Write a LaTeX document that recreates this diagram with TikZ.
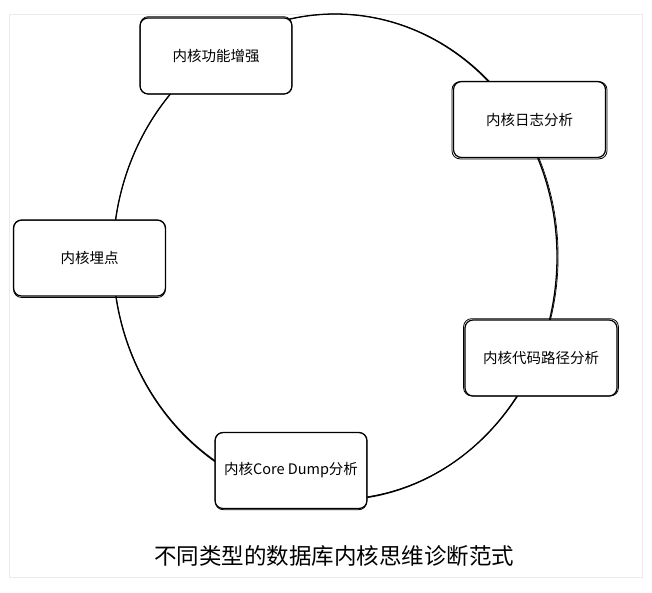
\documentclass[tikz,border=0pt]{standalone}
\usepackage{fontspec}
\setmainfont{Noto Sans CJK SC}

\begin{document}
\begin{tikzpicture}[x=1pt,y=-1pt,
  stage/.style={draw,line width=1.2pt,rounded corners=8pt,fill=white,
    minimum width=152pt,minimum height=76pt,inner sep=0pt,
    font=\fontsize{14.5}{17.4}\selectfont},
  sketch/.style={line width=0.8pt,rounded corners=8pt},
  loopline/.style={line width=1.3pt}]
\path[use as bounding box] (0,0) rectangle (652,592);
\draw[line width=0.6pt,black!8] (9,14) rectangle (642,577);
% cycle behind the stages
\draw[loopline] (335,257) ellipse [x radius=222pt,y radius=243pt];
\draw[line width=0.7pt] (335.6,256.6) ellipse [x radius=222.5pt,y radius=242.6pt];
\node[stage] (enhance) at (216,56) {内核功能增强};
\node[stage] (logs) at (529.5,119.5) {内核日志分析};
\node[stage] (probe) at (89.5,258) {内核埋点};
\node[stage] (codepath) at (541,358) {内核代码路径分析};
\node[stage] (coredump) at (291,470.5) {内核Core Dump分析};
\foreach \n/\dx/\dy in {enhance/0.8/-0.7, logs/-0.9/0.8, probe/0.7/0.9, codepath/-0.8/-0.7, coredump/0.9/0.6}
  \draw[sketch] ([shift={(\dx,\dy)}]\n.south west) rectangle ([shift={(-\dx,\dy)}]\n.north east);
\node[inner sep=0pt,font=\fontsize{22.5}{27}\selectfont] (caption) at (334,556) {不同类型的数据库内核思维诊断范式};
\end{tikzpicture}
\end{document}
